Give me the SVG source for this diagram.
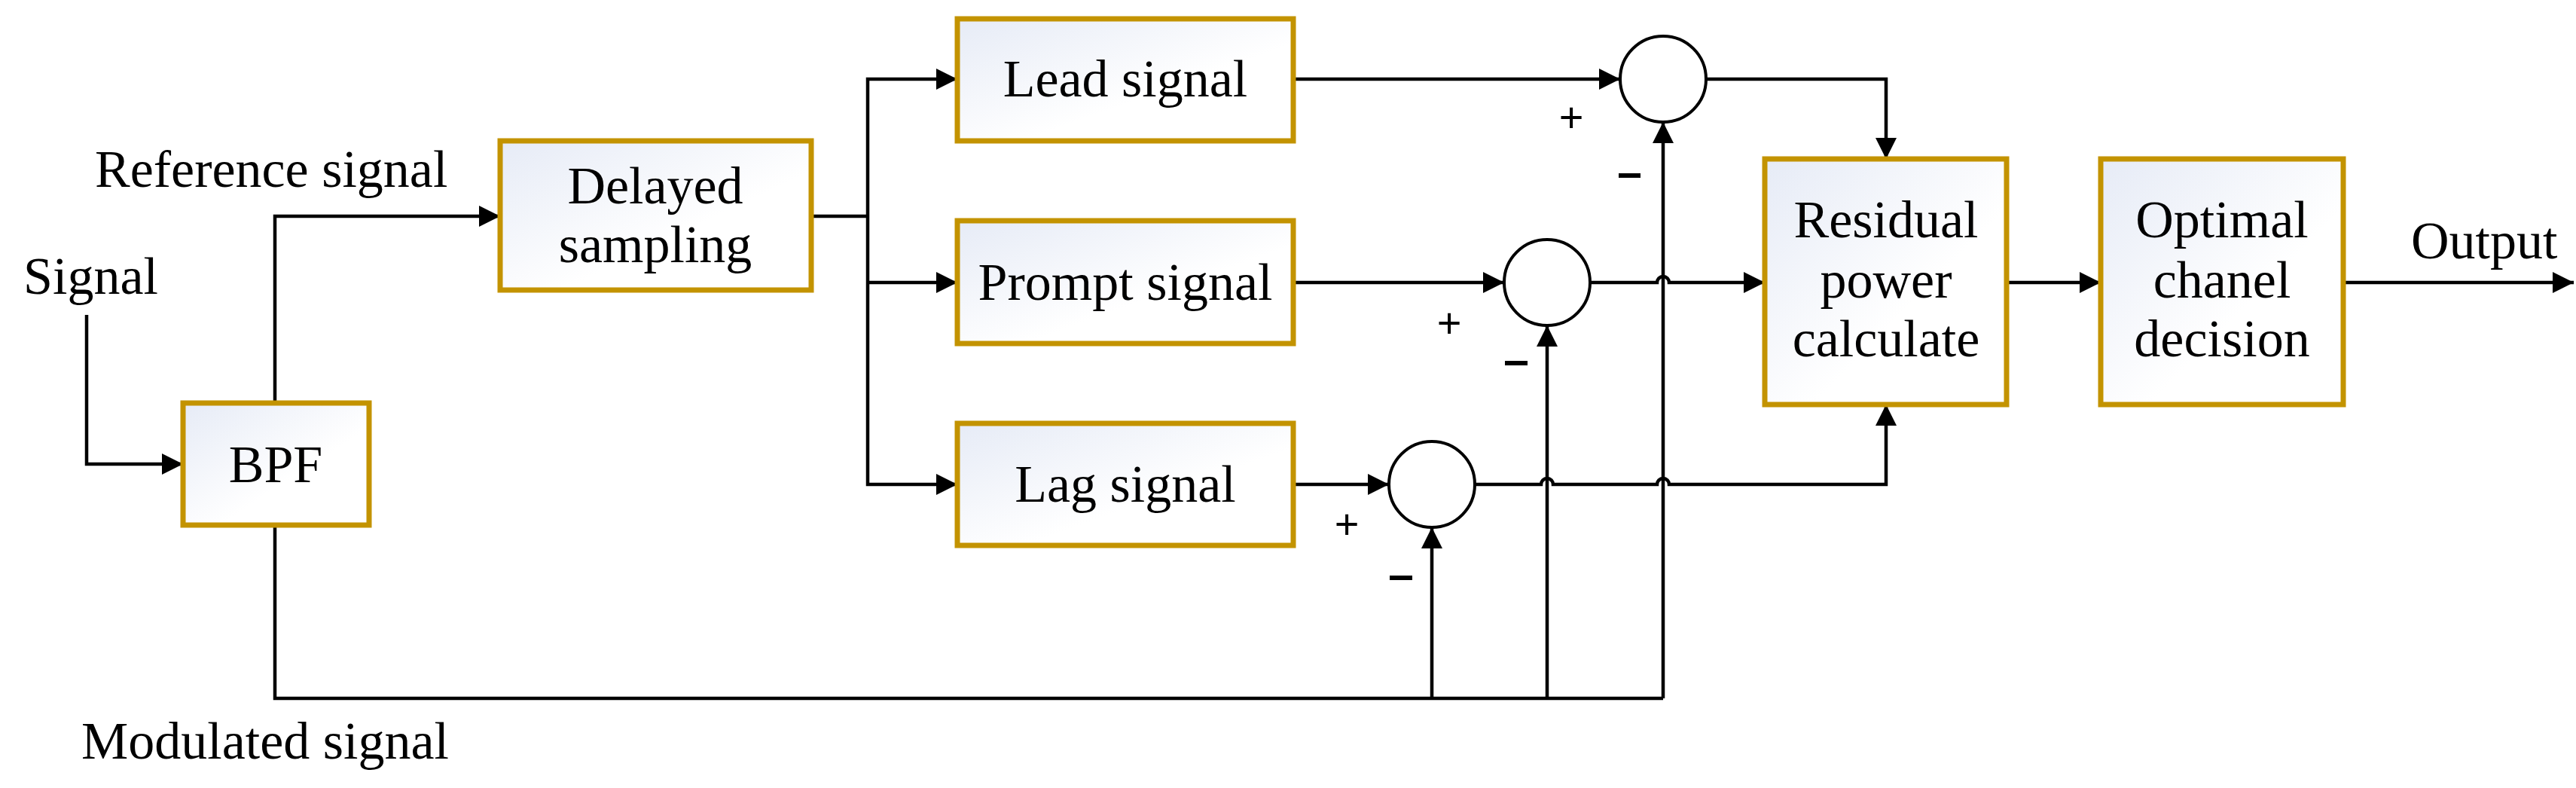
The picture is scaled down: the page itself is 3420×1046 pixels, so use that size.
<svg xmlns="http://www.w3.org/2000/svg" width="3420" height="1046" viewBox="0 0 3420 1046">
<style>
.box{fill:url(#g);stroke:#C39300;stroke-width:7}
.ln{fill:none;stroke:#000;stroke-width:4.5}
.arr{marker-end:url(#ah)}
.t{font-family:"Liberation Serif",serif;font-size:70px;fill:#000}
.c{text-anchor:middle}
.s{font-family:"Liberation Sans",sans-serif;font-size:56px;fill:#000;text-anchor:middle}
.circ{fill:#fff;stroke:#000;stroke-width:4}
</style>
<defs>
<linearGradient id="g" x1="0" y1="0" x2="1" y2="1">
<stop offset="0" stop-color="#e6ebf6"/><stop offset="0.6" stop-color="#ffffff"/>
</linearGradient>
<marker id="ah" markerUnits="userSpaceOnUse" markerWidth="30" markerHeight="28" refX="28" refY="14" orient="auto">
<path d="M0,0 L28,14 L0,28 Z" fill="#000"/>
</marker>
</defs>
<g id="connectors">
<path class="ln arr" d="M115 418 V616 H243"/>
<path class="ln arr" d="M365 535 V287 H664"/>
<path class="ln" d="M1077 287 H1152"/>
<path class="ln arr" d="M1152 287 V105 H1271"/>
<path class="ln arr" d="M1152 375 H1271"/>
<path class="ln arr" d="M1152 287 V643 H1271"/>
<path class="ln" d="M365 697 V927 H2208"/>
<path class="ln arr" d="M1717 105 H2151"/>
<path class="ln arr" d="M1717 375 H1997"/>
<path class="ln arr" d="M1717 643 H1844"/>
<path class="ln arr" d="M1901 927 V700"/>
<path class="ln arr" d="M2054 927 V432"/>
<path class="ln arr" d="M2208 927 V162"/>
<path class="ln arr" d="M2265 105 H2504 V211"/>
<path class="ln arr" d="M2111 375 H2200 a8 8 0 0 1 16 0 H2343"/>
<path class="ln arr" d="M1958 643 H2046 a8 8 0 0 1 16 0 H2200 a8 8 0 0 1 16 0 H2504 V537"/>
<path class="ln arr" d="M2664 375 H2789"/>
<path class="ln arr" d="M3111 375 H3417"/>
</g>
<g id="bpf"><rect class="box" x="243" y="535" width="247" height="162"/><text class="t c" x="366" y="640">BPF</text></g>
<g id="delayed"><rect class="box" x="664" y="187" width="413" height="198"/><text class="t c" x="870" y="270">Delayed</text><text class="t c" x="870" y="348">sampling</text></g>
<g id="lead"><rect class="box" x="1271" y="25" width="446" height="162"/><text class="t c" x="1494" y="128">Lead signal</text></g>
<g id="prompt"><rect class="box" x="1271" y="293" width="446" height="163"/><text class="t c" x="1494" y="398">Prompt signal</text></g>
<g id="lag"><rect class="box" x="1271" y="562" width="446" height="162"/><text class="t c" x="1494" y="666">Lag signal</text></g>
<g id="sum1"><ellipse class="circ" cx="2208" cy="105" rx="57" ry="57"/></g>
<g id="sum2"><ellipse class="circ" cx="2054" cy="375" rx="57" ry="57"/></g>
<g id="sum3"><ellipse class="circ" cx="1901" cy="643" rx="57" ry="57"/></g>
<g id="residual"><rect class="box" x="2343" y="211" width="321" height="326"/><text class="t c" x="2504" y="315">Residual</text><text class="t c" x="2504" y="395">power</text><text class="t c" x="2504" y="473">calculate</text></g>
<g id="optimal"><rect class="box" x="2789" y="211" width="322" height="326"/><text class="t c" x="2950" y="315">Optimal</text><text class="t c" x="2950" y="395">chanel</text><text class="t c" x="2950" y="473">decision</text></g>
<g id="labels">
<text class="t" x="31" y="390">Signal</text>
<text class="t" x="126" y="248">Reference signal</text>
<text class="t" x="108" y="1007">Modulated signal</text>
<text class="t" x="3201" y="343">Output</text>
<text class="s" x="2086" y="175">+</text>
<path d="M2149 233 H2178 M1998 482 H2028 M1845 767 H1875" stroke="#000" stroke-width="6"/>
<text class="s" x="1924" y="448">+</text>
<text class="s" x="1788" y="715">+</text>
</g>
</svg>
